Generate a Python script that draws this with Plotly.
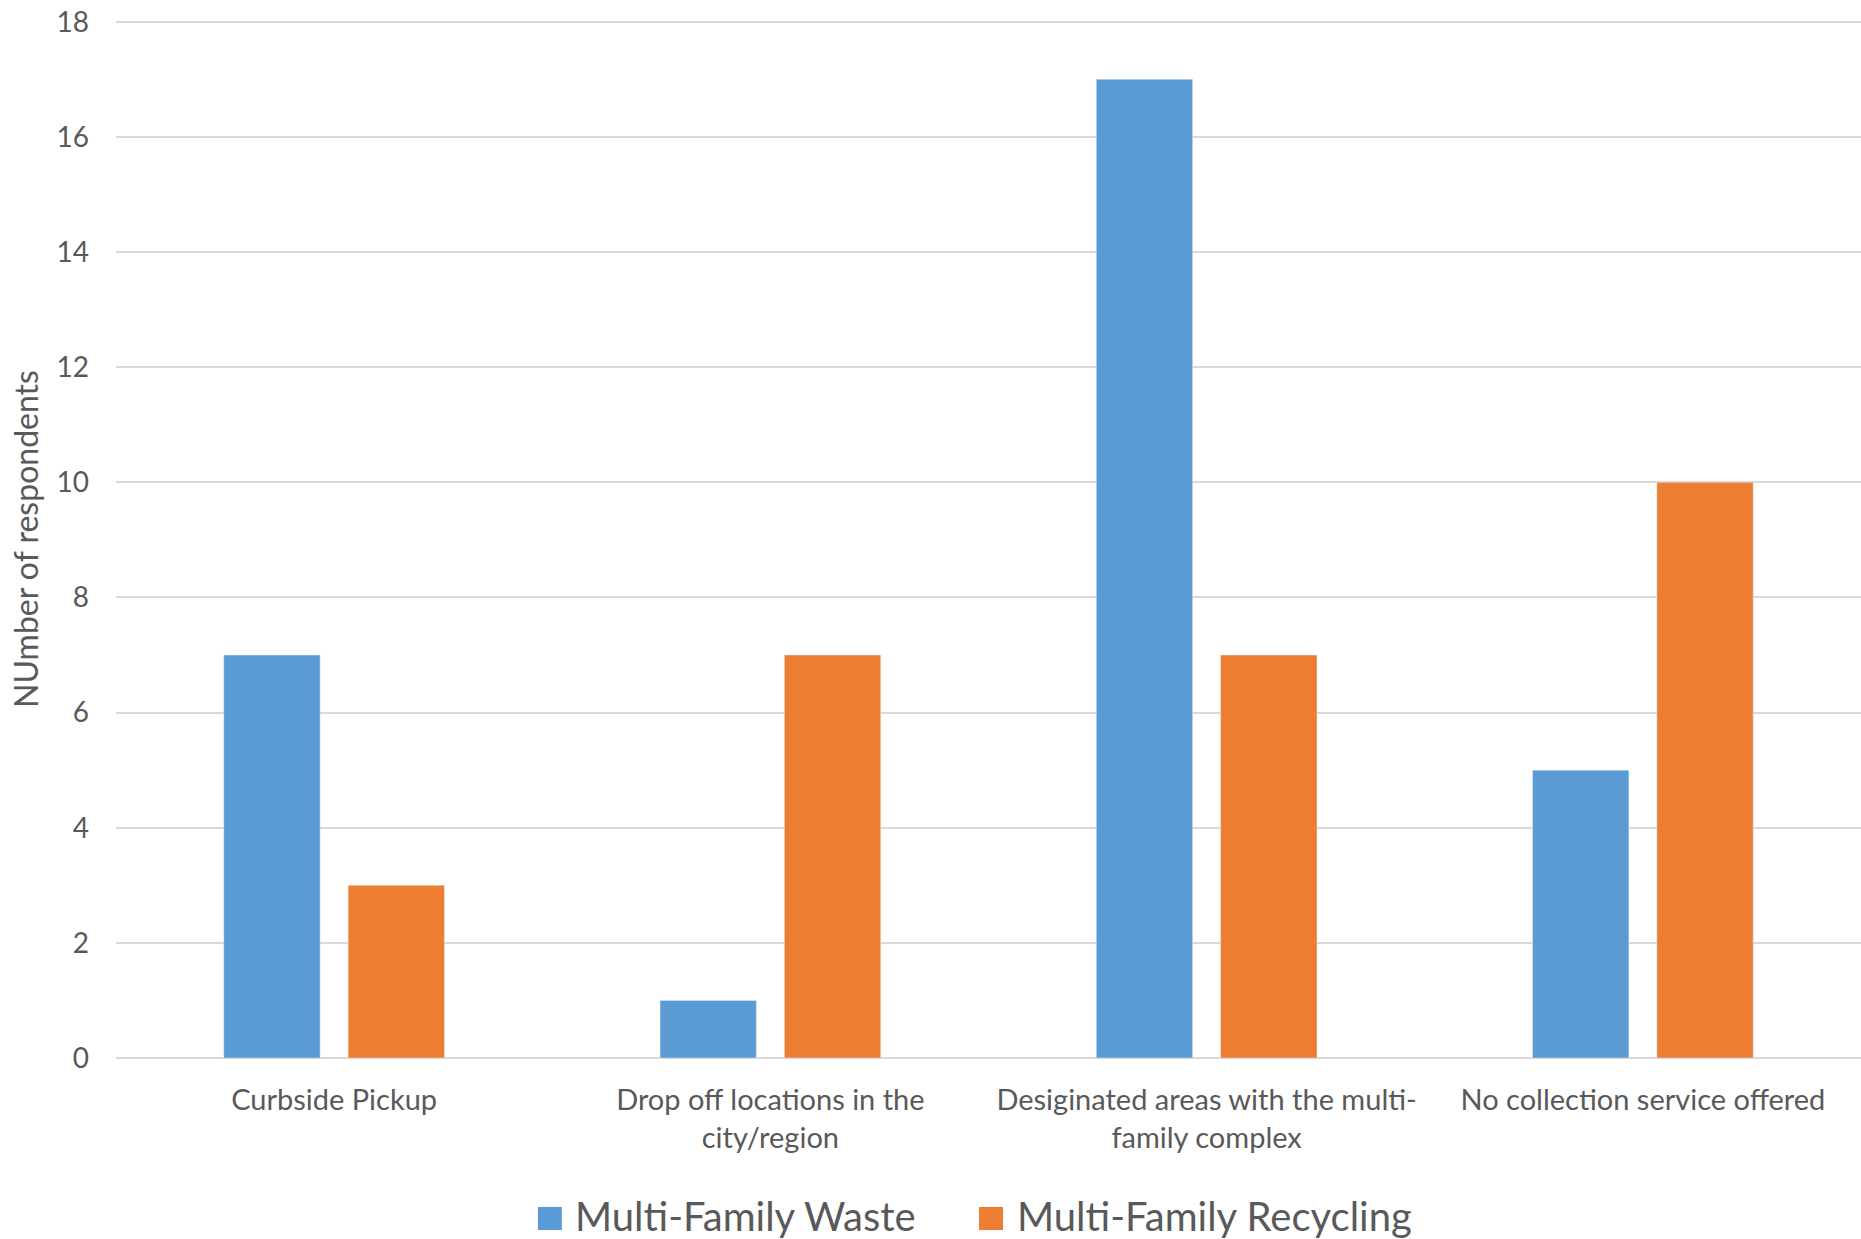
import plotly.graph_objects as go

categories = ["Curbside Pickup", "Drop off locations in the city/region",
              "Desiginated areas with the multi-family complex", "No collection service offered"]
tick_labels = ["Curbside Pickup", "Drop off locations in the<br>city/region",
               "Desiginated areas with the multi-<br>family complex", "No collection service offered"]
waste = [7, 1, 17, 5]
recycling = [3, 7, 7, 10]
y_ticks = [0, 2, 4, 6, 8, 10, 12, 14, 16, 18]
series_names = ["Multi-Family Waste", "Multi-Family Recycling"]
colors = ["#5B9BD5", "#ED7D31"]

FONT = "Lato, 'Open Sans', sans-serif"
TXT = "#595959"

fig = go.Figure()
for name, vals, col in zip(series_names, [waste, recycling], colors):
    fig.add_trace(go.Bar(x=categories, y=vals, name=name, marker_color=col, showlegend=False))

# custom legend (large square swatches) in paper coordinates
legend_pos = [(0.2418, 0.2619), (0.4946, 0.5152)]
for name, col, (sx, tx) in zip(series_names, colors, legend_pos):
    fig.add_shape(type="rect", xref="paper", yref="paper", x0=sx, x1=sx + 0.0137,
                  y0=-0.1657, y1=-0.1435, fillcolor=col, line_width=0)
    fig.add_annotation(xref="paper", yref="paper", x=tx, y=-0.1525, xanchor="left",
                       yanchor="middle", text=name, showarrow=False,
                       font=dict(size=40, color=TXT, family=FONT))

fig.update_layout(
    width=1861, height=1239,
    margin=dict(l=116, r=0, t=20, b=181),
    plot_bgcolor="white", paper_bgcolor="white",
    barmode="group", bargap=0.43, bargroupgap=0.225,
    font=dict(family=FONT, color=TXT, size=24),
    showlegend=False,
)
fig.update_xaxes(tickvals=categories, ticktext=tick_labels, showgrid=False,
                 showline=False, ticks="", ticklabelstandoff=22, automargin=False,
                 tickfont=dict(size=29, color=TXT))
fig.update_yaxes(range=[0, 18.03], tickvals=y_ticks, showgrid=True, gridcolor="#D9D9D9", gridwidth=2,
                 zeroline=True, zerolinecolor="#D9D9D9", zerolinewidth=2, automargin=False,
                 ticks="", ticklabelstandoff=26, tickfont=dict(size=28, color=TXT),
                 ticklabeloverflow="allow",
                 title=dict(text="NUmber of respondents", font=dict(size=32, color=TXT), standoff=8))

fig.write_html("out.html", config={"displayModeBar": False},
               post_script="document.body.style.margin='0';document.body.style.overflow='hidden';")
